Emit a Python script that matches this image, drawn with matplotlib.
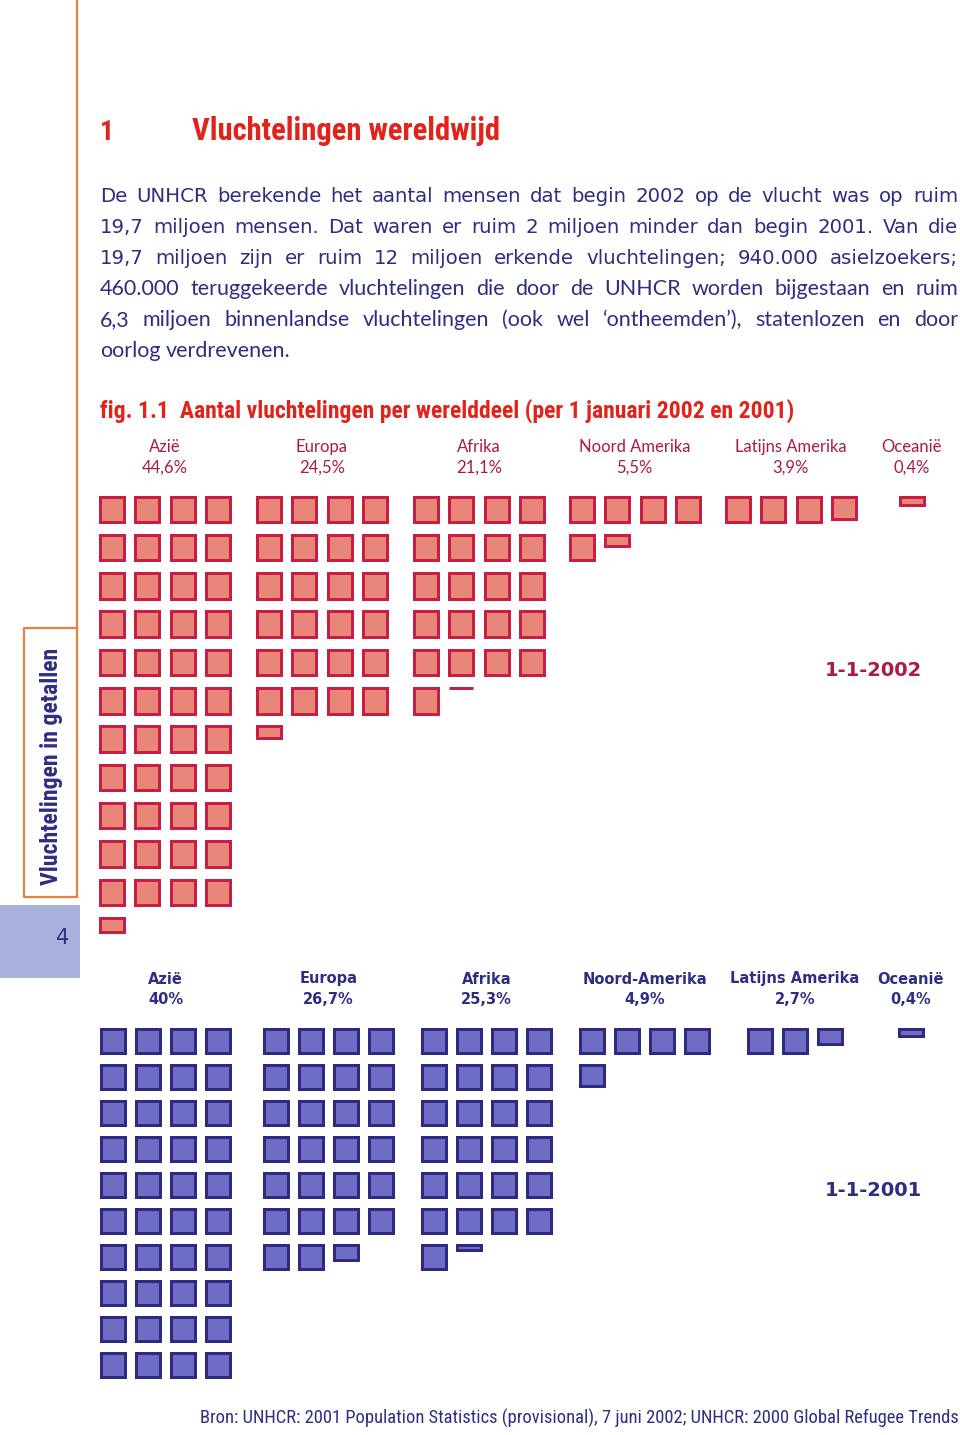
import matplotlib
matplotlib.use("Agg")
import math
import matplotlib.pyplot as plt
from matplotlib.patches import Rectangle

# data: share of refugees per continent (percent), one square = 1 %
regions_2002 = ["Azië", "Europa", "Afrika", "Noord Amerika", "Latijns Amerika", "Oceanië"]
pct_2002 = [44.6, 24.5, 21.1, 5.5, 3.9, 0.4]
regions_2001 = ["Azië", "Europa", "Afrika", "Noord-Amerika", "Latijns Amerika", "Oceanië"]
pct_2001 = [40.0, 26.7, 25.3, 4.9, 2.7, 0.4]

body = [
    "De UNHCR berekende het aantal mensen dat begin 2002 op de vlucht was op ruim",
    "19,7 miljoen mensen. Dat waren er ruim 2 miljoen minder dan begin 2001. Van die",
    "19,7 miljoen zijn er ruim 12 miljoen erkende vluchtelingen; 940.000 asielzoekers;",
    "460.000 teruggekeerde vluchtelingen die door de UNHCR worden bijgestaan en ruim",
    "6,3 miljoen binnenlandse vluchtelingen (ook wel \u2018ontheemden\u2019), statenlozen en door",
    "oorlog verdrevenen.",
]

RED = "#E2231A"
BLUE = "#2D2E83"
MAROON = "#A8194D"
ORANGE = "#E8823A"
NARROW = ["Roboto Condensed", "Liberation Sans Narrow", "Roboto", "DejaVu Sans"]

fig = plt.figure(figsize=(9.6, 14.35), dpi=100)
ax = fig.add_axes([0, 0, 1, 1])
ax.set_xlim(0, 960)
ax.set_ylim(1435, 0)
ax.axis("off")
rend = fig.canvas.get_renderer()


def fit(x, y, s, width, size=12, vertical=False, **kw):
    t = ax.text(x, y, s, fontsize=size, **kw)
    bb = t.get_window_extent(rend)
    cur = bb.height if vertical else bb.width
    t.set_fontsize(size * width / cur)
    return t


def justify(lines, x0, x1, y0, step, size, family, last_left=False):
    for i, line in enumerate(lines):
        y = y0 + i * step
        words = line.split()
        ts = [ax.text(0, y, w, fontsize=size, family=family, color=BLUE, va="baseline")
              for w in words]
        ws = [t.get_window_extent(rend).width for t in ts]
        if last_left and i == len(lines) - 1:
            gap = size * 0.36
        else:
            gap = (x1 - x0 - sum(ws)) / (len(words) - 1)
        x = x0
        for t, w in zip(ts, ws):
            t.set_x(x)
            x += w + gap


def waffle(x0, y0, value, w, h, dx, dy, fc, ec, lw=3, ncol=4):
    full = int(value)
    rest = round(value - full, 2)
    cells = [1.0] * full + ([rest] if rest > 0 else [])
    for i, frac in enumerate(cells):
        r, c = divmod(i, ncol)
        x = x0 + c * dx
        y = y0 + r * dy
        ax.add_patch(Rectangle((x + lw / 2, y + lw / 2), w - lw, max(h * frac - lw, 0),
                               facecolor=fc, edgecolor=ec, linewidth=lw * 0.72))
    used = min(ncol, math.ceil(value))
    return x0 + ((used - 1) * dx + w) / 2


def pct_label(v):
    return f"{v:g}".replace(".", ",") + "%"


# page decoration
ax.plot([77, 77], [0, 897], color=ORANGE, lw=1.6)
ax.plot([77, 24, 24, 77], [628, 628, 897, 897], color=ORANGE, lw=1.6)
ax.add_patch(Rectangle((0, 905), 80, 73, facecolor="#A9B2DB", edgecolor="none"))
ax.text(63, 938, "4", fontsize=15, color=BLUE, ha="center", va="center")
fit(52, 766, "Vluchtelingen in getallen", 237, size=16, vertical=True, rotation=90,
    family=NARROW, weight="bold", color=BLUE, ha="center", va="center")

# headings
t = fit(192, 140, "Vluchtelingen wereldwijd", 308, size=22, family=NARROW, weight="bold",
        color=RED, va="baseline")
ax.text(100, 140, "1", fontsize=t.get_fontsize() * 0.9, family=NARROW, weight="bold",
        color=RED, va="baseline")

justify(body[:3], 100, 958, 202, 31, 14.2, "DejaVu Sans")
justify(body[3:], 100, 958, 295, 31, 15.5, "Lato", last_left=True)

fit(100, 418, "fig. 1.1  Aantal vluchtelingen per werelddeel (per 1 januari 2002 en 2001)",
    693, size=18, family=NARROW, weight="bold", color=RED, va="baseline")

# 2002 waffles
x_2002 = [98, 255, 412, 568, 724, 898]
for name, v, gx in zip(regions_2002, pct_2002, x_2002):
    cx = waffle(gx, 495, v, 27, 28.5, 35.5, 38.3, "#E8867A", "#C81E44")
    ax.text(cx, 447, name, fontsize=12, family="Lato", color=MAROON, ha="center", va="center")
    ax.text(cx, 468, pct_label(v), fontsize=12, family="Lato", color=MAROON,
            ha="center", va="center")
ax.text(873, 670, "1-1-2002", fontsize=14, weight="bold", color=MAROON,
        ha="center", va="center")

# 2001 waffles
x_2001 = [99, 262, 420, 578, 746, 897]
for name, v, gx in zip(regions_2001, pct_2001, x_2001):
    cx = waffle(gx, 1027, v, 27, 27, 35.3, 36, "#6E6CC4", "#2E2A80")
    ax.text(cx, 979, name, fontsize=10.5, weight="bold", color=BLUE, ha="center", va="center")
    ax.text(cx, 1000, pct_label(v), fontsize=10.5, weight="bold", color=BLUE,
            ha="center", va="center")
ax.text(873, 1190, "1-1-2001", fontsize=14, weight="bold", color=BLUE,
        ha="center", va="center")

fit(200, 1424, "Bron: UNHCR: 2001 Population Statistics (provisional), 7 juni 2002; "
    "UNHCR: 2000 Global Refugee Trends", 756, size=12, family=NARROW, color=BLUE,
    va="baseline")

fig.savefig("out.png", dpi=100)
